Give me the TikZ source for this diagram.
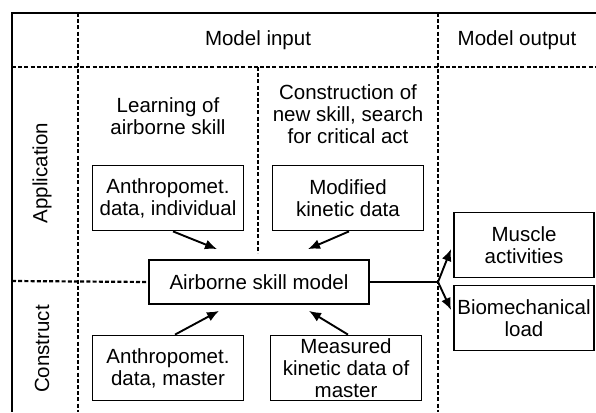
\documentclass[tikz,border=0pt]{standalone}
\usepackage{fontspec}
\setmainfont{Liberation Sans}
\usetikzlibrary{positioning,arrows.meta}

\tikzset{
  frame/.style={line width=2pt},
  sep/.style={line width=2.2pt, dash pattern=on 4pt off 2.2pt},
  box/.style={draw, line width=1.8pt, align=center, inner sep=0pt, minimum height=65pt, minimum width=151pt},
  label/.style={align=center},
  arr/.style={line width=1.9pt, -{Latex[length=12pt,width=10pt]}}
}

\begin{document}
\begin{tikzpicture}[x=1pt,y=-1pt,font=\fontsize{20.5}{22}\selectfont]
\useasboundingbox (0,0) rectangle (596,412);
% frame
\draw[frame](596,13) -- (12,13) -- (12,412);
\draw[sep](12,67) -- (596,67);
\draw[sep](78,13) -- (78,412);
\draw[sep](438,13) -- (438,412);
\draw[sep](258,67) -- (258,253);
% headers
\node[label] (input) at (258,40) {Model input};
\node[label] (output) at (517,40) {Model output};
\node[label, rotate=90] (appl) at (42,173) {Application};
\node[label, rotate=90] (constr) at (42,349) {Construct};
\node[label] (learn) at (168,116) {Learning of\\airborne skill};
\node[label] (search) at (348,114) {Construction of\\new skill, search\\for critical act};
% boxes
\node[box] (indiv) at (168,198) {Anthropomet.\\data, individual};
\node[box] (modif) at (348,198) {Modified\\kinetic data};
\node[box, minimum width=220pt, minimum height=44pt] (model) at (259,282) {Airborne skill model};
\node[box] (master) at (168,368) {Anthropomet.\\data, master};
\node[box] (measured) at (346,368) {Measured\\kinetic data of\\master};
\node[box, minimum width=140pt] (muscle) at (524,245) {Muscle\\activities};
\node[box, minimum width=140pt] (load) at (524,318) {Biomechanical\\load};
\coordinate (split) at (438,282);
% separator into model box
\draw[sep](12,281) -- (model.west);
% connectors
\draw[arr] ([xshift=5pt]indiv.south) -- ([xshift=-42pt,yshift=10pt]model.north);
\draw[arr] ([xshift=1pt]modif.south) -- ([xshift=49pt,yshift=10pt]model.north);
\draw[arr] ([xshift=7pt]master.north) -- ([xshift=-40pt,yshift=-6pt]model.south);
\draw[arr] ([xshift=2pt]measured.north) -- ([xshift=50pt,yshift=-6pt]model.south);
\draw[line width=1.8pt] (model.east) -- (split);
\draw[arr] (split) -- ([xshift=-2pt,yshift=-4pt]muscle.west);
\draw[arr] (split) -- ([xshift=-2pt,yshift=8pt]load.west);
\end{tikzpicture}
\end{document}
